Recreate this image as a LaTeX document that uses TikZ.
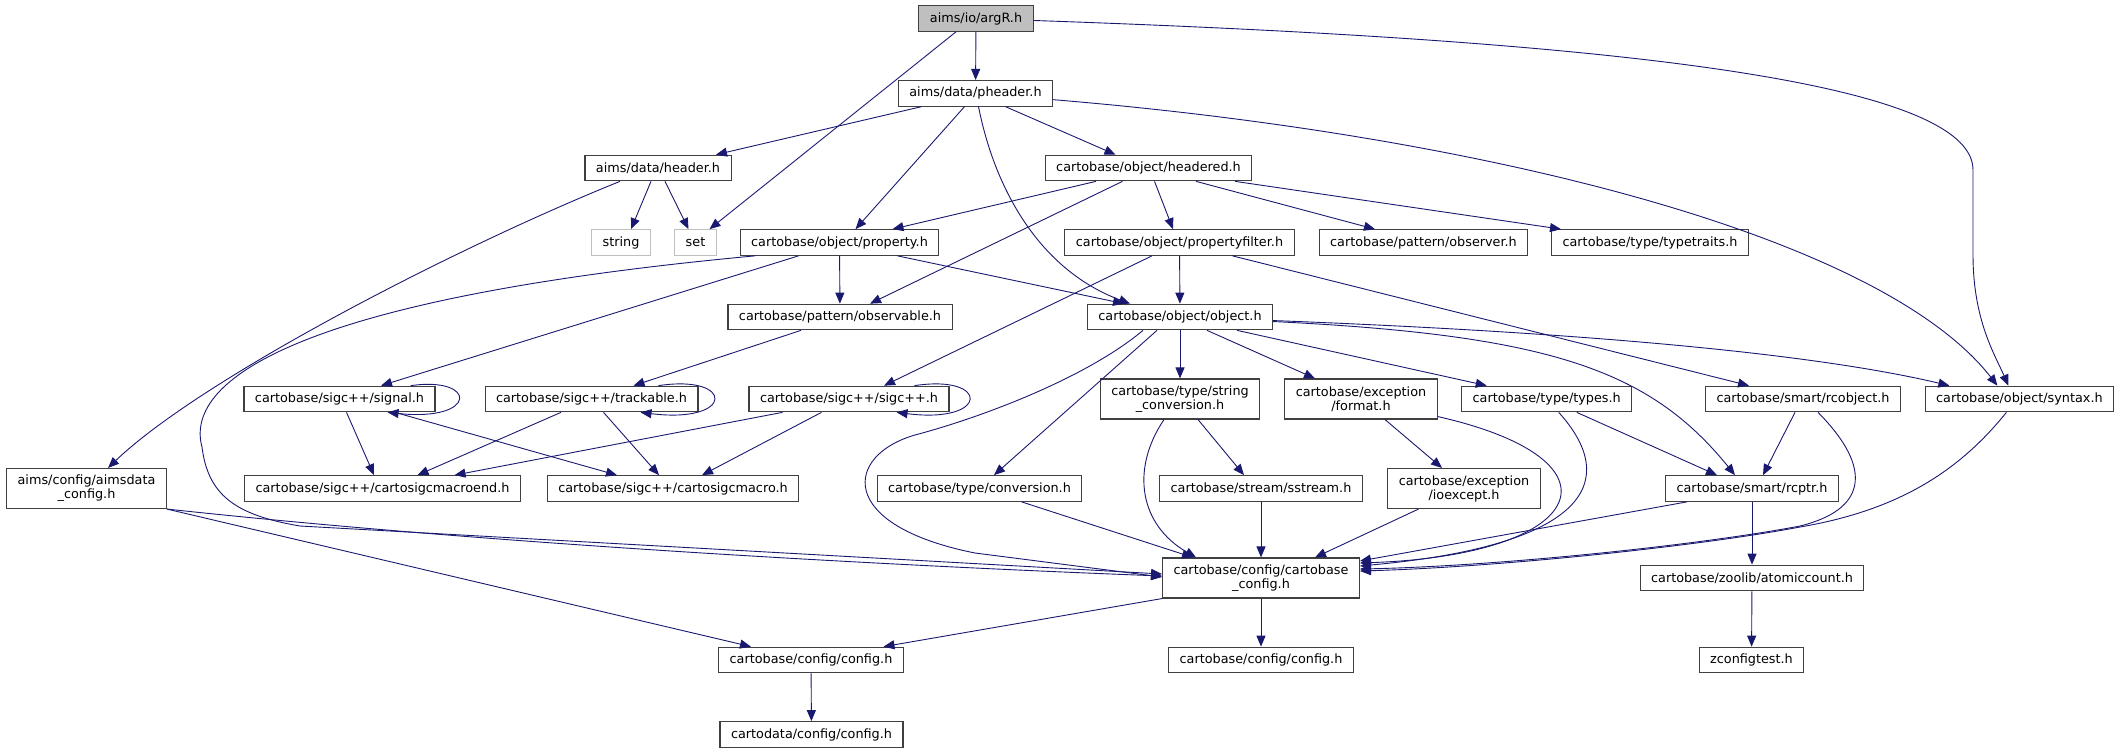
\documentclass[tikz,border=0pt]{standalone}
\usepackage{fontspec}
\setmainfont{DejaVu Sans}
\usetikzlibrary{arrows.meta}
\definecolor{Midnight}{HTML}{191970}
\definecolor{Rim}{HTML}{404040}
\definecolor{RootFill}{HTML}{BFBFBF}
\definecolor{Faint}{HTML}{BFBFBF}

\begin{document}
\begin{tikzpicture}[x=1pt,y=-1pt,
  file/.style={draw=Rim,line width=1.1pt,fill=white,align=center,
    font=\fontsize{12.8}{14}\selectfont,inner xsep=11pt,inner ysep=2pt,minimum height=25.6pt},
  tall/.style={file,minimum height=40pt},
  root/.style={file,fill=RootFill},
  sys/.style={file,draw=Faint},
  link/.style={-{Triangle[length=11pt,width=9pt]},line width=0.9pt,draw=Midnight}]
\useasboundingbox (0,0) rectangle (2125,753);
% include graph, one row after the other
\node[root](argr) at (976,18.5) {aims/io/argR.h};
\node[file](pheader) at (975.5,93.3) {aims/data/pheader.h};
\node[file](header) at (658,168) {aims/data/header.h};
\node[file](headered) at (1148.5,168) {cartobase/object/headered.h};
\node[sys](string) at (621,242.5) {string};
\node[sys](set) at (695.5,242.5) {set};
\node[file](property) at (839.5,242.5) {cartobase/object/property.h};
\node[file](propfilter) at (1179.5,242.5) {cartobase/object/propertyfilter.h};
\node[file](observer) at (1423.5,242.5) {cartobase/pattern/observer.h};
\node[file](typetraits) at (1650,242.5) {cartobase/type/typetraits.h};
\node[file](observable) at (840,317) {cartobase/pattern/observable.h};
\node[file](object) at (1180,317) {cartobase/object/object.h};
\node[file](signal) at (339.5,399) {cartobase/sigc++/signal.h};
\node[file](trackable) at (591.5,399) {cartobase/sigc++/trackable.h};
\node[file](sigcpp) at (849,399) {cartobase/sigc++/sigc++.h};
\node[tall](strconv) at (1180,399) {cartobase/type/string\\\_conversion.h};
\node[tall](format) at (1361,399) {cartobase/exception\\/format.h};
\node[file](types) at (1546.7,399) {cartobase/type/types.h};
\node[file](rcobject) at (1803,399) {cartobase/smart/rcobject.h};
\node[file](syntax) at (2019.4,399) {cartobase/object/syntax.h};
\node[tall](aimscfg) at (86.5,488.5) {aims/config/aimsdata\\\_config.h};
\node[file](macroend) at (382.5,488.5) {cartobase/sigc++/cartosigcmacroend.h};
\node[file](macro) at (673,488.5) {cartobase/sigc++/cartosigcmacro.h};
\node[file](conversion) at (979.5,488.5) {cartobase/type/conversion.h};
\node[file](sstream) at (1261,488.5) {cartobase/stream/sstream.h};
\node[tall](ioexcept) at (1464,488.5) {cartobase/exception\\/ioexcept.h};
\node[file](rcptr) at (1752,488.5) {cartobase/smart/rcptr.h};
\node[tall](cbcfg) at (1261,578) {cartobase/config/cartobase\\\_config.h};
\node[file](atomic) at (1752,578) {cartobase/zoolib/atomiccount.h};
\node[file](cfgl) at (811,660) {cartobase/config/config.h};
\node[file](cfgr) at (1261,660) {cartobase/config/config.h};
\node[file](zconf) at (1751.5,660) {zconfigtest.h};
\node[file](cdcfg) at (811.5,734.5) {cartodata/config/config.h};
% top of the graph
\draw[link](argr)--(pheader);
\draw[link]([xshift=-20]argr.south)--([xshift=14]set.north);
\draw[link](argr) .. controls (1600,40) and (1973,80) .. (1973,170) -- (1973,255) .. controls (1973,320) and (1995,355) .. ([xshift=-11]syntax.north);
\draw[link]([xshift=-54]pheader.south)--([xshift=58]header.north);
\draw[link]([xshift=-11]pheader.south)--([xshift=16]property.north);
\draw[link]([xshift=3]pheader.south) .. controls (995,190) and (1040,270) .. ([xshift=-50]object.north);
\draw[link]([xshift=30]pheader.south)--([xshift=-33]headered.north);
\draw[link](pheader) .. controls (1480,135) and (1880,235) .. ([xshift=-22]syntax.north);
\draw[link]([xshift=-7]header.south)--([xshift=10]string.north);
\draw[link]([xshift=7]header.south)--([xshift=-7]set.north);
\draw[link]([xshift=-38]header.south) .. controls (450,250) and (200,380) .. ([xshift=21.5]aimscfg.north);
\draw[link]([xshift=-52.5]headered.south)--([xshift=53]property.north);
\draw[link]([xshift=-26]headered.south)--([xshift=30]observable.north);
\draw[link]([xshift=6]headered.south)--([xshift=-6.5]propfilter.north);
\draw[link]([xshift=47.5]headered.south)--([xshift=-48.5]observer.north);
\draw[link]([xshift=86.5]headered.south)--([xshift=-89]typetraits.north);
% property, filter, object
\draw[link](property)--(observable);
\draw[link]([xshift=58]property.south)--([xshift=-56]object.north);
\draw[link]([xshift=-41]property.south)--([xshift=41.5]signal.north);
\draw[link]([xshift=-84.5]property.south) .. controls (280,300) and (185,385) .. (202,447) .. controls (208,495) and (235,515) .. (300,526) -- ([yshift=4]cbcfg.west);
\draw[link]([xshift=-39]observable.south)--([xshift=42]trackable.north);
\draw[link](propfilter)--(object);
\draw[link]([xshift=-27.5]propfilter.south)--([xshift=35]sigcpp.north);
\draw[link]([xshift=53]propfilter.south)--([xshift=-54]rcobject.north);
\draw[link](object)--(strconv);
\draw[link]([xshift=27]object.south)--([xshift=-46]format.north);
\draw[link]([xshift=57]object.south)--([xshift=-60]types.north);
\draw[link](object) .. controls (1550,335) and (1650,370) .. ([xshift=-17]rcptr.north);
\draw[link](object) .. controls (1600,333) and (1820,355) .. ([xshift=-70]syntax.north);
\draw[link]([xshift=-23]object.south)--([xshift=14.5]conversion.north);
\draw[link]([xshift=-37]object.south) .. controls (1090,375) and (990,415) .. (915,435) .. controls (845,455) and (835,525) .. (975,553) -- ([yshift=1]cbcfg.west);
% sigc++ headers
\draw[link]([xshift=-25]signal.north east) .. controls (478,376) and (478,422) .. ([xshift=-48]signal.south east);
\draw[link]([xshift=7]signal.south)--([xshift=-8.5]macroend.north);
\draw[link]([xshift=55.5]signal.south)--([xshift=-56]macro.north);
\draw[link]([xshift=-40]trackable.north east) .. controls (735,374) and (735,424) .. ([xshift=-58]trackable.south east);
\draw[link]([xshift=-30.5]trackable.south)--([xshift=35]macroend.north);
\draw[link]([xshift=12]trackable.south)--([xshift=-14]macro.north);
\draw[link]([xshift=-35]sigcpp.north east) .. controls (990,374) and (990,424) .. ([xshift=-53]sigcpp.south east);
\draw[link]([xshift=-66.5]sigcpp.south)--([xshift=72]macroend.north);
\draw[link]([xshift=-27.5]sigcpp.south)--([xshift=29]macro.north);
% config headers
\draw[link](aimscfg.south east) .. controls (500,545) and (900,566) .. ([yshift=2]cbcfg.west);
\draw[link](aimscfg.south east)--([xshift=-60]cfgl.north);
\draw[link]([xshift=18]strconv.south)--([xshift=-17]sstream.north);
\draw[link]([xshift=-16]strconv.south) .. controls (1130,470) and (1140,525) .. ([xshift=-65]cbcfg.north);
\draw[link]([xshift=24]format.south)--([xshift=-22]ioexcept.north);
\draw[link]([yshift=3]format.south east) .. controls (1630,460) and (1590,555) .. ([yshift=15]cbcfg.east);
\draw[link]([xshift=30]types.south)--([xshift=-35]rcptr.north);
\draw[link]([xshift=12]types.south) .. controls (1620,480) and (1590,545) .. ([yshift=12]cbcfg.east);
\draw[link]([xshift=-8]rcobject.south)--([xshift=11]rcptr.north);
\draw[link]([xshift=15]rcobject.south) .. controls (1875,470) and (1865,510) .. (1800,526) .. controls (1700,545) and (1500,566) .. ([yshift=9]cbcfg.east);
\draw[link]([xshift=-13]syntax.south) .. controls (1960,470) and (1900,510) .. (1800,527) .. controls (1700,546) and (1500,567) .. ([yshift=7]cbcfg.east);
\draw[link]([xshift=-65]rcptr.south)--([yshift=17]cbcfg.east);
\draw[link](rcptr)--(atomic);
\draw[link](atomic)--(zconf);
\draw[link]([xshift=42]conversion.south)--([xshift=-68]cbcfg.north);
\draw[link](sstream)--(cbcfg);
\draw[link]([xshift=-45.5]ioexcept.south)--([xshift=54]cbcfg.north);
\draw[link](cbcfg.south west)--([xshift=72.5]cfgl.north);
\draw[link](cbcfg)--(cfgr);
\draw[link](cfgl)--(cdcfg);
\end{tikzpicture}
\end{document}
